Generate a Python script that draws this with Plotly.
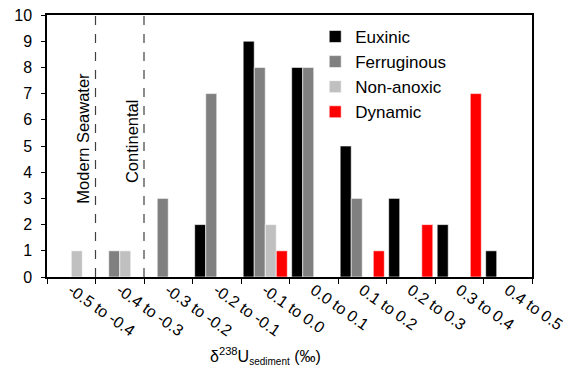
import plotly.graph_objects as go

categories = ["-0.5 to -0.4", "-0.4 to -0.3", "-0.3 to -0.2", "-0.2 to -0.1", "-0.1 to 0.0",
              "0.0 to 0.1", "0.1 to 0.2", "0.2 to 0.3", "0.3 to 0.4", "0.4 to 0.5"]
euxinic = [0, 0, 0, 2, 9, 8, 5, 3, 2, 1]
ferruginous = [0, 1, 3, 7, 8, 8, 3, 0, 0, 0]
non_anoxic = [1, 1, 0, 0, 2, 0, 0, 0, 0, 0]
dynamic = [0, 0, 0, 0, 1, 0, 1, 2, 7, 0]

series = [("Euxinic", euxinic, "#000000"),
          ("Ferruginous", ferruginous, "#808080"),
          ("Non-anoxic", non_anoxic, "#c0c0c0"),
          ("Dynamic", dynamic, "#ff0000")]

font = "Arial, Liberation Sans, sans-serif"
fig = go.Figure()
for name, vals, col in series:
    fig.add_trace(go.Bar(x=categories, y=vals, name=name,
                         marker=dict(color=col, line=dict(color="white", width=0.6))))

fig.update_layout(
    width=575, height=371,
    margin=dict(l=47, r=43, t=15, b=94),
    paper_bgcolor="white", plot_bgcolor="white",
    barmode="group", bargap=0.09, bargroupgap=0,
    font=dict(family=font, color="black", size=16),
    showlegend=True,
    legend=dict(x=0.553, y=0.985, xanchor="left", yanchor="top",
                bgcolor="rgba(0,0,0,0)", font=dict(size=17), tracegroupgap=0),
    xaxis=dict(range=[-0.5, 9.5], showline=True, linecolor="black", linewidth=1.5,
               mirror=True, ticks="outside", ticklen=5, tickcolor="black",
               tickmode="array", tickvals=[i - 0.5 for i in range(11)],
               ticktext=[""] * 11, showgrid=False, zeroline=False, automargin=False),
    xaxis2=dict(range=[-0.5, 9.5], overlaying="x", side="bottom", anchor="y",
                tickmode="array", tickvals=list(range(10)), ticktext=categories,
                tickangle=35, tickfont=dict(size=16), showline=False, showgrid=False,
                ticks="", zeroline=False, automargin=False),
    yaxis=dict(range=[0, 10], dtick=1, showline=True, linecolor="black", linewidth=1.5,
               mirror=True, ticks="outside", ticklen=4, tickcolor="black",
               ticklabelstandoff=6,
               showgrid=False, zeroline=False, tickfont=dict(size=16), automargin=False),
)
# invisible trace so the category labels appear on the second x axis
fig.add_trace(go.Scatter(x=[0], y=[0], xaxis="x2", mode="markers",
                         marker=dict(opacity=0), showlegend=False, hoverinfo="skip"))

for xv in [0.5, 1.5]:
    fig.add_shape(type="line", xref="x", yref="y", x0=xv, x1=xv, y0=0, y1=10,
                  line=dict(color="#404040", width=1.2, dash="dash"))

fig.add_annotation(x=0.5, y=5.3, xref="x", yref="y", text="Modern Seawater",
                   textangle=-90, showarrow=False, xanchor="right", xshift=-1,
                   font=dict(size=16.5))
fig.add_annotation(x=1.5, y=5.15, xref="x", yref="y", text="Continental",
                   textangle=-90, showarrow=False, xanchor="right", xshift=-1,
                   font=dict(size=16.5))
fig.add_annotation(x=0.45, y=-0.25, xref="paper", yref="paper",
                   text="δ<sup>238</sup>U<sub><span style='font-size:10px'>sediment</span></sub> (‰)",
                   showarrow=False, xanchor="center", yanchor="top", font=dict(size=16))

fig.write_html("out.html", config={"displayModeBar": False},
               post_script="document.body.style.margin='0';document.body.style.overflow='hidden';")
